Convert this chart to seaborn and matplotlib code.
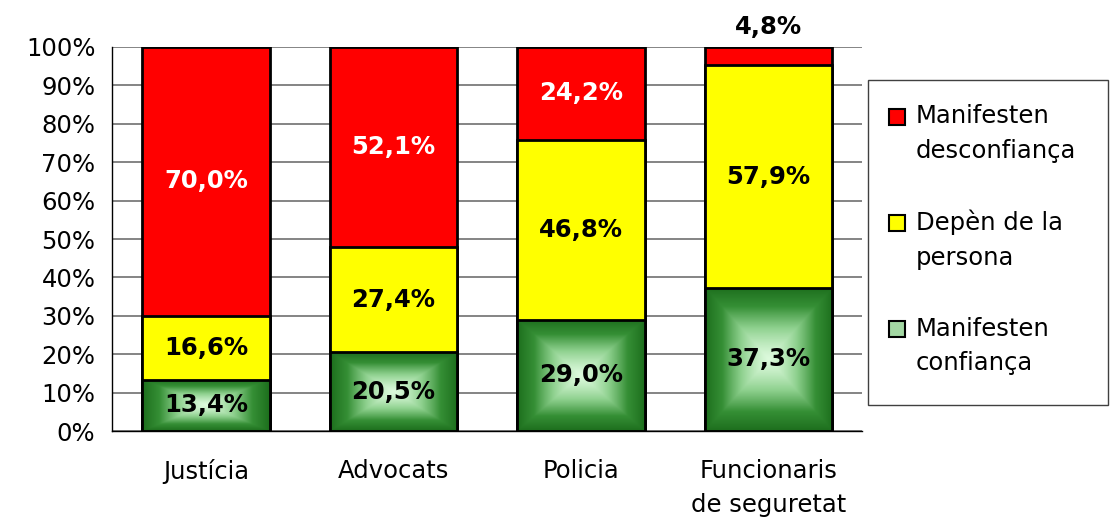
import numpy as np
import pandas as pd
import matplotlib
matplotlib.use("Agg")
import matplotlib.pyplot as plt
import seaborn as sns
from matplotlib.colors import LinearSegmentedColormap
from matplotlib.patches import Patch, Rectangle
from matplotlib.legend_handler import HandlerPatch

# data (percentages)
categories = ["Justícia", "Advocats", "Policia", "Funcionaris\nde seguretat"]
confianca = [13.4, 20.5, 29.0, 37.3]
depen = [16.6, 27.4, 46.8, 57.9]
desconfianca = [70.0, 52.1, 24.2, 4.8]
labels = ["Manifesten\ndesconfiança", "Depèn de la\npersona", "Manifesten\nconfiança"]

sns.set_style("white")
plt.rcParams["font.family"] = ["DejaVu Sans"]
plt.rcParams["text.color"] = "black"
plt.rcParams["xtick.color"] = "black"
plt.rcParams["ytick.color"] = "black"
FS = 17.5

df = pd.DataFrame({"cat": categories, "green": confianca, "yellow": depen, "red": desconfianca})
df["g_top"] = df["green"]
df["y_top"] = df["green"] + df["yellow"]
df["r_top"] = df["y_top"] + df["red"]

W, H = 1110, 521
fig = plt.figure(figsize=(W / 100, H / 100), dpi=100)
ax = fig.add_axes([0.101, 0.1727, 0.6756, 0.7371])

bw = 0.68
sns.barplot(data=df, x="cat", y="r_top", color="#ff0000", saturation=1, width=bw,
            edgecolor="black", linewidth=2, ax=ax)
sns.barplot(data=df, x="cat", y="y_top", color="#ffff00", saturation=1, width=bw,
            edgecolor="black", linewidth=2, ax=ax)
sns.barplot(data=df, x="cat", y="g_top", color="#2e8b2e", saturation=1, width=bw,
            edgecolor="black", linewidth=2, ax=ax)

# green gradient fill (light centre, dark edges)
cmap = LinearSegmentedColormap.from_list("g", ["#dcfadc", "#8fd18f", "#358f35", "#1d6e1d"])
yy, xx = np.mgrid[-1:1:200j, -1:1:200j]
grad = np.maximum(np.abs(xx), np.abs(yy)) ** 1.3
for p in ax.containers[-1].patches:
    x0, y0 = p.get_x(), p.get_y()
    w, h = p.get_width(), p.get_height()
    im = ax.imshow(grad, cmap=cmap, extent=[x0, x0 + w, y0, y0 + h], aspect="auto",
                   origin="lower", zorder=2.5, interpolation="bilinear")
    im.set_clip_path(p)
    p.set_facecolor("none")
    p.set_zorder(3)

ax.set_xlim(-0.5, 3.5)
ax.set_ylim(0, 100)
ax.set_axisbelow(True)
ax.yaxis.grid(True, color="#707070", linewidth=1.2)
ax.set_yticks(np.arange(0, 101, 10))
ax.set_yticklabels([f"{v}%" for v in range(0, 101, 10)], fontsize=FS)
ax.tick_params(axis="y", length=10, width=1, color="black", labelcolor="black", pad=2)
ax.set_xticks(range(4))
ax.set_xticklabels(categories, fontsize=FS)
for t in ax.get_xticklabels():
    t.set_linespacing(1.55)
ax.tick_params(axis="x", which="major", length=0, pad=20, labelcolor="black")
ax.set_xticks([-0.5, 0.5, 1.5, 2.5, 3.5], minor=True)
ax.tick_params(axis="x", which="minor", length=9, width=1, color="black")
ax.set_xlabel("")
ax.set_ylabel("")
for s in ["top", "right"]:
    ax.spines[s].set_visible(False)
for s in ["left", "bottom"]:
    ax.spines[s].set_color("black")
    ax.spines[s].set_linewidth(1)

def fmt(v):
    return f"{v:.1f}%".replace(".", ",")

for i in range(4):
    g, y, r = confianca[i], depen[i], desconfianca[i]
    kw = dict(ha="center", fontsize=FS, fontweight="bold", zorder=5)
    ax.text(i, g / 2, fmt(g), va="center", color="black", **kw)
    ax.text(i, g + y / 2, fmt(y), va="center", color="black", **kw)
    if r > 10:
        ax.text(i, g + y + r / 2, fmt(r), va="center", color="white", **kw)
    else:
        ax.text(i, 100 + 2, fmt(r), va="bottom", color="black", clip_on=False, **kw)


# legend marker sits on the first text line
def top_square(legend, orig_handle, xdescent, ydescent, width, height, fontsize):
    return Rectangle((-xdescent, -ydescent + 12.8), width, height)


handles = [Patch(facecolor="#ff0000", edgecolor="black", linewidth=1.5),
           Patch(facecolor="#ffff00", edgecolor="black", linewidth=1.5),
           Patch(facecolor="#a3d8a3", edgecolor="black", linewidth=1.5)]
leg = fig.legend(handles, labels, loc="upper left",
                 bbox_to_anchor=(865 / W, 0, 240 / W, 1 - 80 / H), mode="expand",
                 fontsize=FS, frameon=False,
                 handlelength=0.65, handleheight=0.65, handletextpad=0.45,
                 labelspacing=1.93, borderpad=1.0, borderaxespad=0,
                 handler_map={Patch: HandlerPatch(patch_func=top_square)})
for t in leg.get_texts():
    t.set_linespacing(1.55)
    t.set_color("black")

# legend box
fig.patches.append(Rectangle((868 / W, 1 - 405 / H), 240 / W, 325 / H,
                             transform=fig.transFigure, facecolor="none",
                             edgecolor="#404040", linewidth=1))

fig.savefig("out.png", dpi=100)
